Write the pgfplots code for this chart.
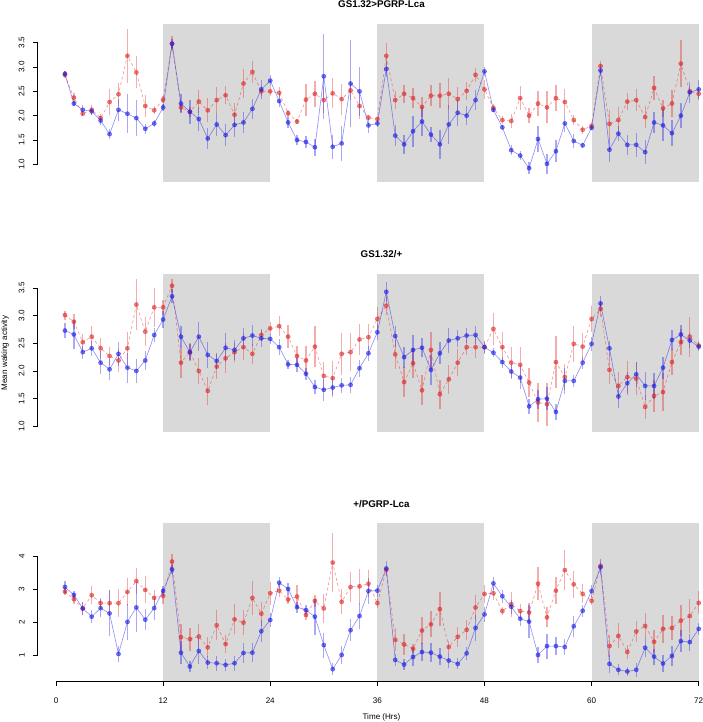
\documentclass[border=0pt]{standalone}
\usepackage{fontspec}
\setmainfont{Liberation Sans}
\usepackage{graphicx}
\usepackage{pgfplots}
\usepackage{pgfplotstable}
\pgfplotsset{compat=1.18}
\definecolor{bl}{RGB}{30,30,230}
\definecolor{rd}{RGB}{225,40,40}
\definecolor{shadegray}{RGB}{217,217,217}

\pgfplotstableread{
h v e
1 2.86 0.05
2 2.25 0.05
3 2.12 0.1
4 2.09 0.08
5 1.90 0.1
6 1.62 0.1
7 2.12 0.22
8 2.04 0.4
9 1.95 0.37
10 1.73 0.1
11 1.84 0.08
12 2.17 0.08
13 3.48 0.1
14 2.25 0.19
15 2.08 0.25
16 1.93 0.25
17 1.53 0.22
18 1.82 0.23
19 1.60 0.22
20 1.81 0.24
21 1.86 0.22
22 2.14 0.21
23 2.54 0.2
24 2.72 0.12
25 2.30 0.12
26 1.86 0.12
27 1.50 0.1
28 1.46 0.13
29 1.35 0.17
30 2.81 0.87
31 1.36 0.25
32 1.43 0.36
33 2.66 0.9
34 2.50 0.5
35 1.80 0.15
36 1.84 0.07
37 2.96 0.16
38 1.59 0.22
39 1.41 0.2
40 1.68 0.32
41 1.88 0.29
42 1.61 0.15
43 1.41 0.3
44 1.82 0.4
45 2.06 0.27
46 2.00 0.2
47 2.32 0.21
48 2.91 0.1
49 2.12 0.05
50 1.76 0.05
51 1.29 0.1
52 1.18 0.09
53 0.92 0.12
54 1.52 0.26
55 1.01 0.2
56 1.27 0.22
57 1.84 0.17
58 1.48 0.15
59 1.39 0.05
60 1.75 0.05
61 2.93 0.12
62 1.30 0.25
63 1.63 0.15
64 1.40 0.2
65 1.40 0.25
66 1.25 0.24
67 1.86 0.22
68 1.80 0.33
69 1.64 0.27
70 2.00 0.26
71 2.48 0.22
72 2.54 0.19
}\pAb
\pgfplotstableread{
h v e
1 2.84 0.07
2 2.37 0.1
3 2.04 0.05
4 2.12 0.1
5 1.95 0.08
6 2.28 0.26
7 2.44 0.24
8 3.23 0.55
9 2.89 0.33
10 2.20 0.22
11 2.11 0.08
12 2.33 0.07
13 3.48 0.15
14 2.17 0.1
15 2.08 0.1
16 2.29 0.24
17 2.11 0.25
18 2.32 0.26
19 2.42 0.19
20 2.02 0.25
21 2.66 0.3
22 2.90 0.23
23 2.50 0.1
24 2.50 0.1
25 2.47 0.11
26 2.05 0.07
27 1.88 0.05
28 2.33 0.33
29 2.45 0.27
30 2.32 0.27
31 2.46 0.31
32 2.34 0.32
33 2.52 0.2
34 2.20 0.26
35 1.96 0.05
36 1.93 0.05
37 3.23 0.26
38 2.32 0.19
39 2.45 0.19
40 2.36 0.2
41 2.18 0.2
42 2.41 0.22
43 2.41 0.26
44 2.45 0.32
45 2.34 0.25
46 2.51 0.18
47 2.84 0.14
48 2.54 0.19
49 2.16 0.08
50 1.91 0.09
51 1.89 0.15
52 2.36 0.24
53 2.00 0.15
54 2.25 0.26
55 2.17 0.33
56 2.36 0.27
57 2.28 0.26
58 1.91 0.11
59 1.71 0.08
60 1.79 0.07
61 3.02 0.11
62 1.83 0.29
63 1.91 0.27
64 2.29 0.17
65 2.32 0.22
66 1.97 0.22
67 2.57 0.24
68 2.15 0.17
69 2.25 0.27
70 3.07 0.49
71 2.50 0.1
72 2.45 0.12
}\pAr
\pgfplotstableread{
h v e
1 2.73 0.14
2 2.66 0.26
3 2.34 0.12
4 2.41 0.14
5 2.15 0.21
6 2.03 0.19
7 2.31 0.22
8 2.06 0.27
9 2.00 0.21
10 2.19 0.17
11 2.65 0.12
12 2.93 0.15
13 3.35 0.13
14 2.62 0.2
15 2.34 0.14
16 2.62 0.26
17 2.29 0.24
18 2.18 0.14
19 2.42 0.26
20 2.38 0.18
21 2.59 0.18
22 2.64 0.19
23 2.59 0.15
24 2.58 0.09
25 2.43 0.14
26 2.12 0.08
27 2.11 0.12
28 1.95 0.11
29 1.71 0.12
30 1.66 0.2
31 1.70 0.17
32 1.74 0.14
33 1.75 0.14
34 2.05 0.15
35 2.32 0.14
36 2.70 0.14
37 3.43 0.18
38 2.63 0.19
39 2.25 0.19
40 2.38 0.27
41 2.42 0.17
42 2.02 0.27
43 2.32 0.2
44 2.55 0.23
45 2.59 0.15
46 2.64 0.13
47 2.65 0.17
48 2.43 0.12
49 2.33 0.08
50 2.16 0.1
51 1.99 0.12
52 1.88 0.2
53 1.36 0.13
54 1.49 0.17
55 1.50 0.21
56 1.26 0.15
57 1.82 0.23
58 1.82 0.11
59 2.15 0.11
60 2.49 0.13
61 3.22 0.13
62 2.41 0.14
63 1.54 0.21
64 1.78 0.21
65 1.94 0.23
66 1.73 0.26
67 1.73 0.23
68 2.06 0.2
69 2.56 0.18
70 2.66 0.17
71 2.55 0.14
72 2.44 0.08
}\pBb
\pgfplotstableread{
h v e
1 3.01 0.08
2 2.89 0.14
3 2.52 0.15
4 2.62 0.2
5 2.41 0.18
6 2.27 0.17
7 2.19 0.2
8 2.41 0.3
9 3.20 0.46
10 2.71 0.26
11 3.15 0.35
12 3.15 0.14
13 3.54 0.13
14 2.15 0.27
15 2.34 0.16
16 2.00 0.23
17 1.64 0.25
18 2.08 0.23
19 2.23 0.27
20 2.34 0.17
21 2.43 0.23
22 2.31 0.18
23 2.65 0.1
24 2.77 0.12
25 2.81 0.18
26 2.62 0.21
27 2.27 0.18
28 2.19 0.26
29 2.44 0.37
30 1.91 0.26
31 1.87 0.31
32 2.31 0.38
33 2.34 0.34
34 2.57 0.28
35 2.61 0.23
36 2.94 0.21
37 3.18 0.16
38 2.30 0.26
39 1.80 0.27
40 2.14 0.27
41 1.65 0.27
42 2.38 0.33
43 1.58 0.26
44 1.85 0.26
45 2.15 0.24
46 2.43 0.14
47 2.43 0.2
48 2.43 0.1
49 2.76 0.29
50 2.43 0.27
51 2.15 0.29
52 2.11 0.33
53 1.79 0.26
54 1.43 0.35
55 1.40 0.39
56 2.16 0.47
57 1.89 0.24
58 2.49 0.32
59 2.44 0.24
60 2.94 0.24
61 3.12 0.14
62 2.02 0.26
63 1.73 0.26
64 1.89 0.29
65 1.86 0.3
66 1.35 0.22
67 1.55 0.29
68 1.62 0.35
69 2.16 0.23
70 2.52 0.24
71 2.62 0.36
72 2.46 0.08
}\pBr
\pgfplotstableread{
h v e
1 3.07 0.18
2 2.83 0.12
3 2.42 0.2
4 2.17 0.19
5 2.43 0.28
6 2.27 0.7
7 1.04 0.24
8 2.01 0.55
9 2.45 0.75
10 2.08 0.32
11 2.43 0.35
12 2.95 0.16
13 3.60 0.14
14 1.08 0.34
15 0.66 0.18
16 1.13 0.39
17 0.78 0.19
18 0.76 0.23
19 0.71 0.19
20 0.76 0.23
21 1.07 0.29
22 1.08 0.28
23 1.73 0.33
24 2.07 0.2
25 3.20 0.17
26 3.01 0.18
27 2.46 0.17
28 2.37 0.15
29 2.17 0.55
30 1.31 0.38
31 0.58 0.18
32 1.01 0.26
33 1.76 0.33
34 2.19 0.38
35 2.95 0.4
36 2.96 0.18
37 3.63 0.24
38 0.86 0.18
39 0.72 0.17
40 0.95 0.27
41 1.10 0.28
42 1.08 0.28
43 0.96 0.25
44 0.84 0.23
45 0.74 0.17
46 1.06 0.2
47 1.83 0.4
48 2.24 0.23
49 3.18 0.2
50 2.79 0.19
51 2.47 0.22
52 2.11 0.21
53 2.02 0.5
54 1.01 0.23
55 1.28 0.38
56 1.28 0.27
57 1.25 0.23
58 1.88 0.32
59 2.35 0.18
60 2.95 0.19
61 3.67 0.24
62 0.74 0.28
63 0.56 0.17
64 0.51 0.14
65 0.56 0.21
66 1.23 0.28
67 0.96 0.24
68 0.75 0.25
69 0.98 0.3
70 1.43 0.34
71 1.40 0.26
72 1.80 0.18
}\pCb
\pgfplotstableread{
h v e
1 2.93 0.1
2 2.70 0.14
3 2.42 0.2
4 2.82 0.27
5 2.58 0.15
6 2.58 0.4
7 2.58 0.42
8 2.92 0.43
9 3.25 0.39
10 2.98 0.41
11 2.74 0.24
12 2.80 0.24
13 3.84 0.24
14 1.55 0.39
15 1.49 0.35
16 1.57 0.39
17 1.24 0.3
18 1.91 0.45
19 1.34 0.28
20 2.09 0.45
21 1.99 0.38
22 2.74 0.52
23 2.26 0.36
24 2.88 0.35
25 2.96 0.18
26 2.69 0.15
27 2.78 0.34
28 2.22 0.16
29 2.65 0.19
30 2.42 0.44
31 3.81 0.9
32 2.62 0.38
33 3.07 0.45
34 3.09 0.53
35 3.17 0.4
36 2.58 0.15
37 3.59 0.1
38 1.47 0.35
39 1.33 0.32
40 1.20 0.14
41 1.75 0.4
42 1.94 0.4
43 2.40 0.52
44 1.25 0.17
45 1.56 0.31
46 1.77 0.31
47 2.45 0.39
48 2.86 0.28
49 2.88 0.2
50 2.34 0.13
51 2.55 0.38
52 2.34 0.2
53 2.30 0.28
54 3.17 0.5
55 2.15 0.3
56 2.96 0.4
57 3.58 0.6
58 3.15 0.4
59 2.86 0.29
60 2.65 0.14
61 3.71 0.11
62 1.28 0.33
63 1.59 0.38
64 1.10 0.2
65 1.72 0.32
66 1.89 0.38
67 1.41 0.35
68 1.80 0.43
69 1.83 0.37
70 2.05 0.47
71 2.19 0.52
72 2.59 0.35
}\pCr

\pgfplotsset{
  panel/.style={
    scale only axis, width=665.3bp, height=158.4bp,
    xmin=-2.05, xmax=72.48,
    clip=false,
    axis line style={draw=none},
    xtick pos=left, ytick pos=left,
    tick align=outside,
    major tick length=4.5bp,
    every tick/.style={black, line width=0.5bp},
    /pgf/number format/assume math mode=true,
    tick label style={font=\fontsize{8.1}{9}\selectfont},
    yticklabel style={anchor=east, inner xsep=8.5bp, inner ysep=0pt},
    xticklabel style={yshift=-8bp},
  },
  bser/.style={draw=bl, draw opacity=0.5, line width=0.6bp,
    mark=*, mark size=2.1bp, mark options={solid, draw=none, fill=bl, fill opacity=0.6},
    error bars/.cd, y dir=both, y explicit, error mark=none,
    error bar style={solid, draw=bl, draw opacity=0.38, line width=1.3bp}},
  rser/.style={draw=rd, draw opacity=0.5, line width=0.6bp, dash pattern=on 3bp off 2.5bp,
    mark=*, mark size=2.1bp, mark options={solid, draw=none, fill=rd, fill opacity=0.6},
    error bars/.cd, y dir=both, y explicit, error mark=none,
    error bar style={solid, draw=rd, draw opacity=0.38, line width=1.3bp}},
}

\begin{document}
\begin{tikzpicture}
\path[use as bounding box] (0,0) rectangle (703bp,722bp);

% Panel 1
\begin{axis}[panel, at={(37.7bp,539.7bp)}, anchor=south west,
  ymin=0.63, ymax=3.887, xtick=\empty,
  ytick={1,1.5,2,2.5,3,3.5},
  yticklabel={\rotatebox{90}{\pgfmathprintnumber[fixed,fixed zerofill,precision=1]{\tick}}}]
  \fill[shadegray] (axis cs:12,0.63) rectangle (axis cs:24,3.887);
  \fill[shadegray] (axis cs:36,0.63) rectangle (axis cs:48,3.887);
  \fill[shadegray] (axis cs:60,0.63) rectangle (axis cs:72,3.887);
  \draw[black, line width=0.5bp] (axis cs:-2.05,1) -- (axis cs:-2.05,3.5);
  \addplot[rser] table[x=h, y=v, y error=e] {\pAr};
  \addplot[bser] table[x=h, y=v, y error=e] {\pAb};
\end{axis}

% Panel 2
\begin{axis}[panel, at={(37.7bp,289.7bp)}, anchor=south west,
  ymin=0.892, ymax=3.754, xtick=\empty,
  ytick={1,1.5,2,2.5,3,3.5},
  yticklabel={\rotatebox{90}{\pgfmathprintnumber[fixed,fixed zerofill,precision=1]{\tick}}}]
  \fill[shadegray] (axis cs:12,0.892) rectangle (axis cs:24,3.754);
  \fill[shadegray] (axis cs:36,0.892) rectangle (axis cs:48,3.754);
  \fill[shadegray] (axis cs:60,0.892) rectangle (axis cs:72,3.754);
  \draw[black, line width=0.5bp] (axis cs:-2.05,1) -- (axis cs:-2.05,3.5);
  \addplot[rser] table[x=h, y=v, y error=e] {\pBr};
  \addplot[bser] table[x=h, y=v, y error=e] {\pBb};
\end{axis}

% Panel 3
\begin{axis}[panel, at={(37.7bp,40.3bp)}, anchor=south west,
  ymin=0.2, ymax=5.0,
  xtick={0,12,24,36,48,60,72},
  ytick={1,2,3,4},
  yticklabel={\rotatebox{90}{\pgfmathprintnumber{\tick}}}]
  \fill[shadegray] (axis cs:12,0.2) rectangle (axis cs:24,5.0);
  \fill[shadegray] (axis cs:36,0.2) rectangle (axis cs:48,5.0);
  \fill[shadegray] (axis cs:60,0.2) rectangle (axis cs:72,5.0);
  \draw[black, line width=0.5bp] (axis cs:-2.05,1) -- (axis cs:-2.05,4);
  \draw[black, line width=0.5bp] (axis cs:0,0.2) -- (axis cs:72,0.2);
  \addplot[rser] table[x=h, y=v, y error=e] {\pCr};
  \addplot[bser] table[x=h, y=v, y error=e] {\pCb};
\end{axis}

\node[font=\bfseries\fontsize{9.8}{11}\selectfont] at (381.5bp,717.5bp) {GS1.32>PGRP-Lca};
\node[font=\bfseries\fontsize{9.8}{11}\selectfont] at (381.5bp,468.3bp) {GS1.32/+};
\node[font=\bfseries\fontsize{9.8}{11}\selectfont] at (381.5bp,218.3bp) {+/PGRP-Lca};
\node[font=\fontsize{8.1}{9}\selectfont, rotate=90] at (5bp,369bp) {Mean waking activity};
\node[font=\fontsize{8.1}{9}\selectfont] at (381.5bp,5bp) {Time (Hrs)};
\end{tikzpicture}
\end{document}
